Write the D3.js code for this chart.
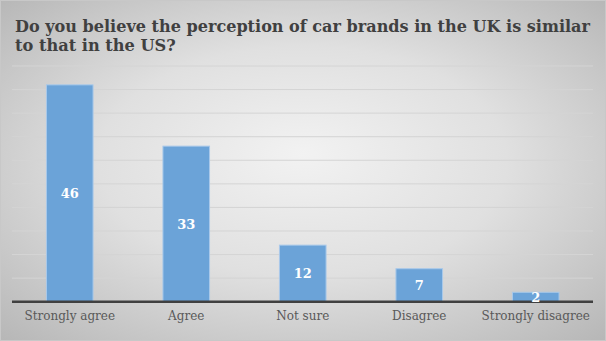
<!DOCTYPE html>
<html><head><meta charset="utf-8">
<script src="https://cdn.jsdelivr.net/npm/d3@7"></script>
<style>html,body{margin:0;padding:0;background:#fff;}svg{display:block;}</style>
</head><body>
<svg id="c" width="606" height="341"></svg>
<script>
const categories = ["Strongly agree", "Agree", "Not sure", "Disagree", "Strongly disagree"];
const values = [46, 33, 12, 7, 2];
const yTicks = [0, 5, 10, 15, 20, 25, 30, 35, 40, 45, 50];
const title = ["Do you believe the perception of car brands in the UK is similar", "to that in the US?"];

const svg = d3.select("#c");
const W = 606, H = 341;
const defs = svg.append("defs");
const rg = defs.append("radialGradient").attr("id","bg").attr("cx","50%").attr("cy","50%").attr("r","75%").attr("fx","50%").attr("fy","45%");
rg.append("stop").attr("offset","0%").attr("stop-color","#f2f2f2");
rg.append("stop").attr("offset","45%").attr("stop-color","#e0e0e0");
rg.append("stop").attr("offset","100%").attr("stop-color","#b2b2b2");
svg.append("rect").attr("x",0.5).attr("y",0.5).attr("width",W-1).attr("height",H-1)
  .attr("fill","url(#bg)").attr("stroke","#c8c8c8");

const x = d3.scaleBand().domain(categories).range([11.5, 594]).paddingInner(0.6).paddingOuter(0.3);
const y = d3.scaleLinear().domain([0, 50]).range([301.7, 66]);

// gridlines
svg.append("g").selectAll("line").data(yTicks.slice(1)).join("line")
  .attr("x1", 12).attr("x2", 593)
  .attr("y1", d => y(d)).attr("y2", d => y(d))
  .attr("stroke", "#d4d4d4").attr("stroke-width", 1);

// bars
svg.append("g").selectAll("rect").data(values).join("rect")
  .attr("x", (d,i) => x(categories[i]))
  .attr("y", d => y(d))
  .attr("width", x.bandwidth())
  .attr("height", d => y(0) - y(d))
  .attr("fill", "#6ba3d8")
  .attr("stroke", "#a9c9ea").attr("stroke-width", 1);

// axis
const xAxis = d3.axisBottom(x).tickSize(0).tickPadding(8);
const ax = svg.append("g").attr("transform", `translate(0,${y(0)})`).call(xAxis);
ax.select(".domain").attr("stroke", "#404040").attr("stroke-width", 2.5).attr("d", "M12,0H593");
ax.selectAll("text").attr("font-family", "'DejaVu Serif', serif").attr("font-size", 12)
  .attr("fill", "#595959").attr("dy", "0.9em");

// value labels
svg.append("g").selectAll("text").data(values).join("text")
  .attr("x", (d,i) => x(categories[i]) + x.bandwidth()/2)
  .attr("y", d => (y(d) + y(0))/2)
  .attr("dy", "0.36em")
  .attr("text-anchor", "middle")
  .attr("font-family", "'DejaVu Serif', serif").attr("font-weight", "bold").attr("font-size", 13)
  .attr("fill", "#ffffff")
  .text(d => d);

// title
svg.append("text").attr("x", 15).attr("y", 32)
  .attr("font-family", "'DejaVu Serif', serif").attr("font-weight", "bold").attr("font-size", 16.2)
  .attr("fill", "#404040")
  .selectAll("tspan").data(title).join("tspan")
  .attr("x", 15).attr("dy", (d,i) => i ? 18.5 : 0)
  .attr("textLength", (d,i) => i ? null : 575)
  .attr("lengthAdjust", "spacingAndGlyphs")
  .text(d => d);
</script>
</body></html>
